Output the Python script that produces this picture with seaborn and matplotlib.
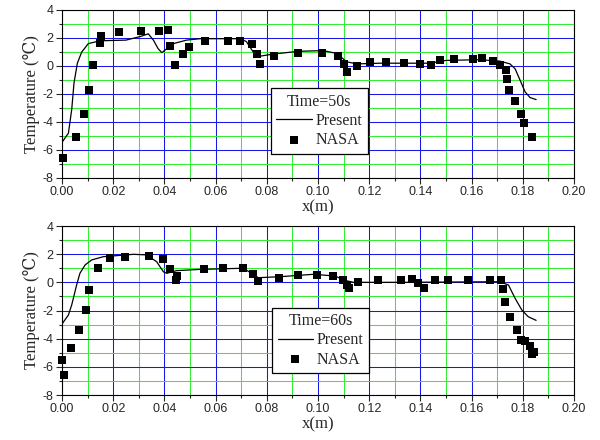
import matplotlib
matplotlib.use("Agg")
import matplotlib.pyplot as plt
import seaborn as sns
import pandas as pd
from matplotlib.ticker import MultipleLocator

# ---------------- data ----------------
# Time = 50 s : NASA measurements
nasa50_x = [0.0005, 0.0055, 0.0086, 0.0107, 0.0122, 0.0150, 0.0154, 0.0224, 0.0310,
            0.0378, 0.0413, 0.0423, 0.0441, 0.0473, 0.0497, 0.0559, 0.0647, 0.0697,
            0.0741, 0.0760, 0.0773, 0.0827, 0.0923, 0.1014, 0.1077, 0.1103, 0.1115,
            0.1151, 0.1204, 0.1264, 0.1336, 0.1398, 0.1441, 0.1478, 0.1530, 0.1604,
            0.1639, 0.1685, 0.1711, 0.1734, 0.1738, 0.1746, 0.1770, 0.1792, 0.1806,
            0.1837]
nasa50_y = [-6.6, -5.1, -3.45, -1.7, 0.1, 1.65, 2.15, 2.45, 2.5,
            2.5, 2.55, 1.45, 0.1, 0.85, 1.35, 1.8, 1.8, 1.8,
            1.6, 0.85, 0.15, 0.7, 0.95, 0.95, 0.7, 0.15, -0.45,
            0.0, 0.25, 0.25, 0.2, 0.15, 0.05, 0.45, 0.5, 0.48,
            0.55, 0.35, 0.1, -0.3, -0.9, -1.7, -2.5, -3.45, -4.1,
            -5.1]
# Time = 50 s : present simulation
pres50_x = [0.0, 0.0025, 0.0038, 0.0047, 0.0060, 0.0077, 0.0103, 0.0148, 0.0250,
            0.0305, 0.0337, 0.0357, 0.0375, 0.0390, 0.0400, 0.0435, 0.0487, 0.0540,
            0.0695, 0.0720, 0.0747, 0.0773, 0.0825, 0.0923, 0.1020, 0.1073, 0.1112,
            0.1151, 0.1242, 0.1437, 0.1500, 0.1633, 0.1710, 0.1750, 0.1770, 0.1789,
            0.1809, 0.1828, 0.1852]
pres50_y = [-5.45, -4.8, -3.1, -1.2, 0.2, 1.0, 1.6, 1.8, 1.85,
            2.1, 2.3, 1.85, 1.25, 0.95, 1.1, 1.6, 1.85, 1.95,
            1.95, 1.75, 1.0, 0.7, 0.85, 1.05, 1.1, 0.9, 0.3,
            0.15, 0.2, 0.2, 0.4, 0.45, 0.35, 0.15, -0.2, -1.0,
            -1.85, -2.25, -2.4]

# Time = 60 s : NASA measurements
nasa60_x = [0.0001, 0.0008, 0.0036, 0.0068, 0.0095, 0.0105, 0.0142, 0.0189, 0.0247,
            0.0339, 0.0393, 0.0422, 0.0444, 0.0451, 0.0556, 0.0630, 0.0708, 0.0747,
            0.0766, 0.0846, 0.0923, 0.0995, 0.1060, 0.1099, 0.1112, 0.1122, 0.1157,
            0.1233, 0.1324, 0.1368, 0.1392, 0.1413, 0.1457, 0.1507, 0.1585, 0.1672,
            0.1716, 0.1721, 0.1732, 0.1750, 0.1779, 0.1794, 0.1807, 0.1828, 0.1837,
            0.1845]
nasa60_y = [-5.55, -6.6, -4.64, -3.36, -1.94, -0.57, 1.0, 1.7, 1.8,
            1.89, 1.68, 0.92, 0.15, 0.45, 0.95, 1.0, 1.0, 0.57,
            0.1, 0.28, 0.5, 0.54, 0.43, 0.14, -0.19, -0.43, 0.04,
            0.19, 0.19, 0.21, -0.02, -0.38, 0.14, 0.14, 0.19, 0.19,
            0.14, -0.47, -1.4, -2.46, -3.41, -4.1, -4.15, -4.52, -5.1,
            -4.95]
# Time = 60 s : present simulation
pres60_x = [0.0, 0.0025, 0.0038, 0.0057, 0.0070, 0.0090, 0.0116, 0.0161, 0.0279,
            0.0330, 0.0370, 0.0396, 0.0409, 0.0448, 0.0539, 0.0708, 0.0741, 0.0767,
            0.0852, 0.0982, 0.1066, 0.1105, 0.1138, 0.1320, 0.1710, 0.1744, 0.1770,
            0.1796, 0.1821, 0.1852]
pres60_y = [-2.96, -2.32, -1.6, -0.2, 0.64, 1.23, 1.59, 1.82, 1.99,
            1.95, 1.46, 0.75, 0.64, 0.83, 0.92, 1.0, 0.64, 0.33,
            0.4, 0.57, 0.45, 0.14, 0.0, 0.0, 0.04, -0.19, -1.14,
            -1.96, -2.44, -2.7]

titles = ["Time=50s", "Time=60s"]
x_ticks = [0.00, 0.02, 0.04, 0.06, 0.08, 0.10, 0.12, 0.14, 0.16, 0.18, 0.20]
y_ticks = [-8, -6, -4, -2, 0, 2, 4]

# ---------------- style ----------------
sns.set_style("ticks")
plt.rcParams["font.family"] = ["Liberation Sans", "DejaVu Sans"]
plt.rcParams["xtick.direction"] = "out"
plt.rcParams["ytick.direction"] = "out"

serif = ["Liberation Serif", "DejaVu Serif"]

fig = plt.figure(figsize=(6.0, 4.4), dpi=100)
ax1 = fig.add_axes([62 / 600, 1 - 178 / 440, 512 / 600, 168 / 440])
ax2 = fig.add_axes([62 / 600, 1 - 395 / 440, 512 / 600, 169 / 440])

panels = [
    (ax1, nasa50_x, nasa50_y, pres50_x, pres50_y, titles[0], (0.408, 0.536)),
    (ax2, nasa60_x, nasa60_y, pres60_x, pres60_y, titles[1], (0.410, 0.517)),
]

for ax, nx, ny, px, py, title, anchor in panels:
    dp = pd.DataFrame({"x": px, "y": py})
    dn = pd.DataFrame({"x": nx, "y": ny})
    ax.set_xlim(0.0, 0.20)
    ax.set_ylim(-8, 4)
    ax.set_xticks(x_ticks)
    ax.set_yticks(y_ticks)
    ax.xaxis.set_minor_locator(MultipleLocator(0.01))
    ax.yaxis.set_minor_locator(MultipleLocator(1))
    ax.grid(which="minor", color="#33ee33", linewidth=0.75, zorder=0)
    ax.grid(which="major", color="#1818e8", linewidth=0.75, zorder=0)
    ax.set_axisbelow(True)

    sns.lineplot(data=dp, x="x", y="y", ax=ax, color="black", linewidth=0.9,
                 estimator=None, sort=False, label="Present", zorder=3)
    sns.scatterplot(data=dn, x="x", y="y", ax=ax, color="black", marker="s",
                    s=30, edgecolor="black", linewidth=0, label="NASA",
                    zorder=4, clip_on=False)

    ax.set_xticklabels(["%.2f" % v for v in x_ticks], fontsize=9)
    ax.set_yticklabels([str(v) for v in y_ticks], fontsize=9)
    ax.tick_params(which="major", length=4, width=0.8, pad=2)
    ax.tick_params(which="minor", length=2.5, width=0.8)
    for sp in ax.spines.values():
        sp.set_visible(True)
        sp.set_color("black")
        sp.set_linewidth(0.8)

    ax.set_xlabel("x(m)", fontsize=12, family=serif, labelpad=1)
    ax.set_ylabel("Temperature (℃)", fontsize=12, family=serif, labelpad=2)

    leg = ax.legend(title=title, loc="upper left", bbox_to_anchor=anchor,
                    borderaxespad=0, frameon=True, fancybox=False,
                    edgecolor="black", framealpha=1, fontsize=11.5,
                    title_fontproperties={"family": serif, "size": 11.5},
                    prop={"family": serif, "size": 11.5},
                    handlelength=2.2, handletextpad=0.25, borderpad=0.35,
                    labelspacing=0.2, markerscale=1.0)
    leg.get_frame().set_linewidth(0.9)
    leg.set_zorder(10)

fig.savefig("out.png", dpi=100)
